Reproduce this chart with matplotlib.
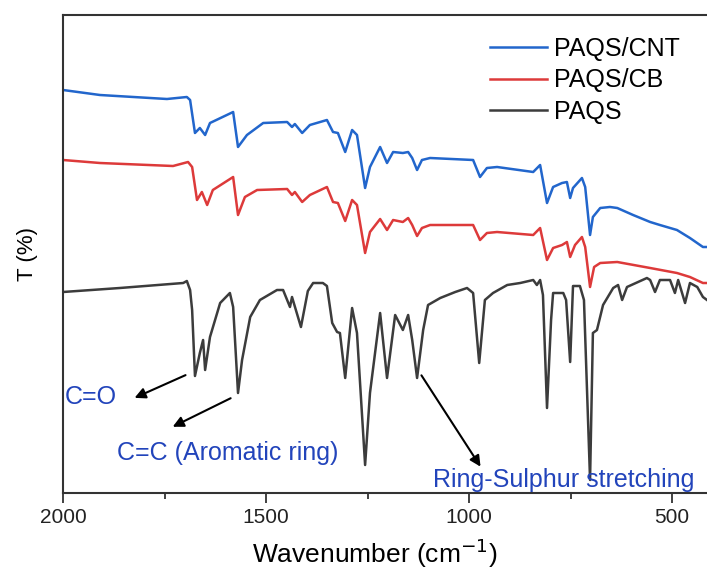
import matplotlib
matplotlib.use('Agg')
import matplotlib.pyplot as plt
from matplotlib.ticker import MultipleLocator

# FTIR spectra, transmittance in arbitrary units
wn_paqs = [2000, 1860, 1704, 1695, 1687, 1682, 1675, 1663, 1655, 1650, 1638, 1613,
           1589, 1581, 1569, 1559, 1539, 1515, 1473, 1458, 1441, 1436, 1414, 1397,
           1384, 1360, 1350, 1337, 1325, 1318, 1305, 1288, 1276, 1256, 1244, 1219,
           1202, 1182, 1163, 1150, 1140, 1128, 1113, 1101, 1071, 1034, 1005, 990,
           975, 961, 941, 906, 874, 842, 833, 825, 818, 808, 798, 793, 768, 761,
           751, 744, 727, 717, 702, 695, 685, 670, 645, 633, 623, 611, 562, 554,
           542, 530, 505, 493, 485, 468, 456, 438, 424, 414]
t_paqs = [201, 205, 210, 212, 203, 183, 117, 140, 153, 123, 156, 190,
          200, 186, 100, 133, 176, 193, 203, 203, 186, 196, 166, 202,
          210, 210, 207, 170, 161, 160, 115, 185, 160, 28, 100, 180,
          115, 178, 163, 178, 153, 115, 163, 188, 195, 201, 205, 200,
          130, 193, 200, 208, 210, 213, 208, 213, 198, 85, 173, 200, 200, 193,
          131, 207, 207, 193, 13, 160, 163, 188, 205, 208, 193, 206, 215, 213,
          201, 213, 213, 200, 213, 190, 210, 206, 196, 193]

wn_cb = [2000, 1909, 1729, 1692, 1682, 1670, 1658, 1645, 1631, 1581, 1569, 1552,
         1522, 1448, 1436, 1429, 1411, 1392, 1350, 1335, 1323, 1305, 1288, 1276,
         1256, 1244, 1219, 1202, 1187, 1163, 1150, 1140, 1128, 1116, 1096, 990,
         973, 956, 931, 842, 825, 808, 793, 771, 759, 751, 739, 722, 714, 702,
         692, 677, 635, 554, 488, 456, 424, 414]
t_cb = [333, 330, 327, 331, 326, 293, 301, 288, 303, 316, 278, 296,
        303, 304, 298, 301, 291, 298, 306, 291, 290, 272, 293, 288,
        240, 261, 274, 263, 273, 271, 275, 268, 257, 265, 268, 268,
        253, 260, 261, 258, 265, 233, 245, 248, 251, 236, 248, 256, 246, 206,
        226, 230, 231, 225, 220, 216, 210, 210]

wn_cnt = [2000, 1909, 1744, 1695, 1687, 1675, 1663, 1650, 1638, 1581, 1569, 1547,
          1507, 1448, 1436, 1429, 1411, 1392, 1350, 1335, 1323, 1305, 1288, 1276,
          1256, 1244, 1219, 1202, 1187, 1163, 1150, 1140, 1128, 1116, 1096, 990,
          973, 956, 931, 842, 825, 808, 793, 771, 759, 751, 744, 722, 714, 702,
          695, 677, 653, 635, 596, 554, 530, 488, 456, 424, 414]
t_cnt = [403, 398, 394, 396, 393, 360, 365, 358, 370, 381, 346, 358,
         370, 371, 366, 369, 360, 368, 373, 361, 360, 341, 363, 358,
         305, 326, 346, 330, 341, 340, 341, 335, 323, 333, 335, 333,
         316, 325, 326, 321, 328, 290, 306, 310, 311, 295, 305, 315, 306, 258,
         276, 285, 286, 285, 278, 271, 268, 263, 255, 246, 246]

blue = '#2266cc'
red = '#dd3a3a'
gray = '#3c3c3c'
note_color = '#2244bb'
font = 'Liberation Sans'

fig = plt.figure(figsize=(7.07, 5.74), dpi=100)
ax = fig.add_axes([63 / 707, 1 - 493 / 574, 1 - 63 / 707, (493 - 15) / 574])

ax.plot(wn_cnt, t_cnt, color=blue, lw=1.8, label='PAQS/CNT')
ax.plot(wn_cb, t_cb, color=red, lw=1.8, label='PAQS/CB')
ax.plot(wn_paqs, t_paqs, color=gray, lw=1.8, label='PAQS')

ax.set_xlim(2000, 414)
ax.set_ylim(0, 478)
ax.xaxis.set_major_locator(MultipleLocator(500))
ax.xaxis.set_minor_locator(MultipleLocator(250))
ax.set_yticks([])
ax.spines['right'].set_visible(False)
for s in ['left', 'top', 'bottom']:
    ax.spines[s].set_color('#333333')
    ax.spines[s].set_linewidth(1.5)
ax.tick_params(axis='x', which='major', direction='out', length=7, width=1.3,
               colors='#333333', labelsize=15, pad=4)
ax.tick_params(axis='x', which='minor', direction='out', length=4, width=1.3,
               colors='#333333')
for lab in ax.get_xticklabels():
    lab.set_fontfamily(font)
    lab.set_color('#222222')

ax.set_xlabel('Wavenumber (cm$^{-1}$)', fontsize=19, family=font)
ax.xaxis.set_label_coords((375 - 63) / 644, -0.09)
ax.set_ylabel('T (%)', fontsize=16, family=font, labelpad=18)

leg = ax.legend(loc='upper left', bbox_to_anchor=(490 / 707, 1 - 37 / 574),
                bbox_transform=fig.transFigure, frameon=False, borderpad=0,
                borderaxespad=0, handlelength=2.3, handletextpad=0.25,
                labelspacing=0.3, prop={'family': font, 'size': 18})

# peak assignments
arrow = dict(arrowstyle='-|>', color='black', lw=1.5, mutation_scale=16)
ax.annotate('', xy=(1830, 94), xytext=(1692, 119), arrowprops=arrow)
ax.annotate('', xy=(1736, 65), xytext=(1581, 96), arrowprops=arrow)
ax.annotate('', xy=(968, 24), xytext=(1121, 120), arrowprops=arrow)
ax.text(1995, 96, 'C=O', color=note_color, fontsize=18, family=font, va='center')
ax.text(1867, 40, 'C=C (Aromatic ring)', color=note_color, fontsize=18,
        family=font, va='center')
ax.text(1089, 13, 'Ring-Sulphur stretching', color=note_color, fontsize=18,
        family=font, va='center')

fig.savefig('out.png', dpi=100, facecolor='white')
